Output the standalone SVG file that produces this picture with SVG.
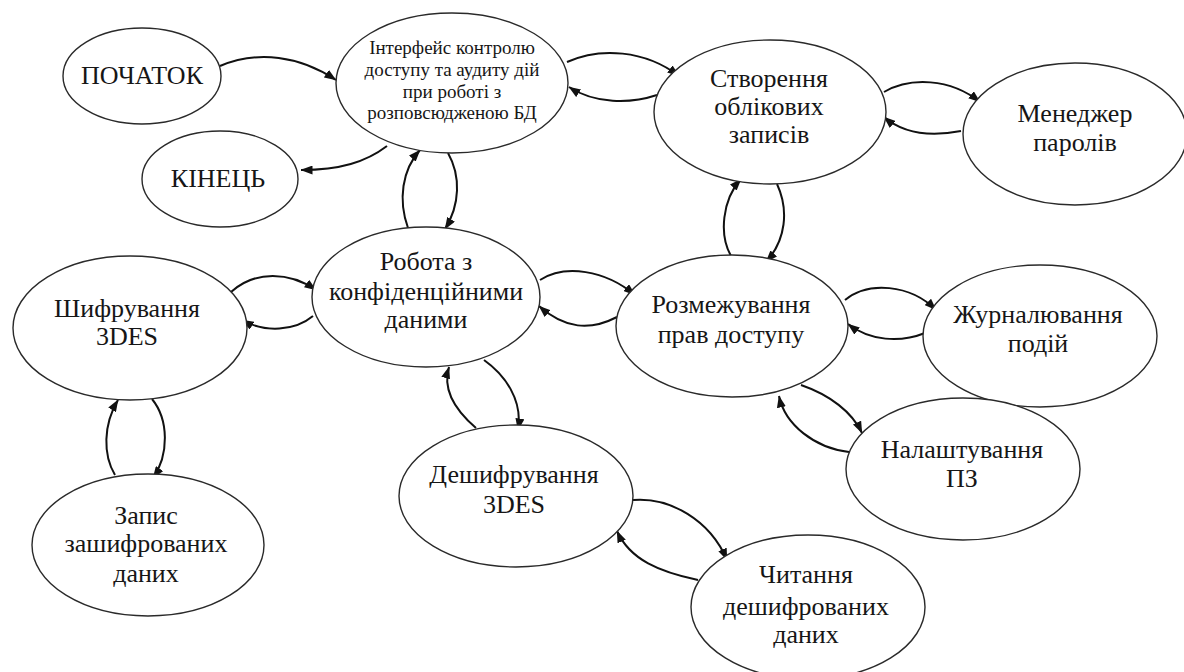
<svg xmlns="http://www.w3.org/2000/svg" width="1184" height="672" viewBox="0 0 1184 672">
<style>
.node ellipse{fill:#fff;stroke:#2a2a2a;stroke-width:1.4}
.node text{font-family:"Times New Roman","Liberation Serif","DejaVu Serif",serif;font-size:26px;fill:#161616;text-anchor:middle}
.node text.small{font-size:19px}
#connectors path{fill:none;stroke:#111;stroke-width:2;marker-end:url(#arrow)}
</style>
<defs>
<marker id="arrow" viewBox="0 0 12 9" markerWidth="12" markerHeight="9" refX="11.5" refY="4.5" orient="auto" markerUnits="userSpaceOnUse">
<path d="M0,0 L12,4.5 L0,9 z" fill="#111"/>
</marker>
</defs>
<rect width="1184" height="672" fill="#fff"/>
<g id="connectors">
<path d="M220 66 C258 50 300 56 336 80"/>
<path d="M387 146 C366 162 340 170 301 170"/>
<path d="M408 228 C398 200 402 170 420 150"/>
<path d="M448 153 C461 176 460 205 445 229"/>
<path d="M567 62 C600 47 645 50 679 76"/>
<path d="M657 95 C630 104 595 104 569 87"/>
<path d="M884 92 C910 77 950 78 980 102"/>
<path d="M961 131 C935 136 905 135 884 117"/>
<path d="M731 256 C719 235 722 200 741 179"/>
<path d="M777 184 C789 210 786 240 766 262"/>
<path d="M231 292 C255 270 290 272 316 290"/>
<path d="M313 316 C295 331 265 333 242 320"/>
<path d="M540 280 C565 264 605 270 635 295"/>
<path d="M617 317 C590 331 565 329 539 306"/>
<path d="M845 300 C868 281 910 284 936 310"/>
<path d="M925 333 C900 343 870 341 848 324"/>
<path d="M801 385 C830 395 852 412 862 433"/>
<path d="M849 452 C815 448 785 425 779 396"/>
<path d="M476 428 C455 410 442 390 449 367"/>
<path d="M484 360 C505 375 523 400 518 430"/>
<path d="M633 500 C670 497 710 520 727 560"/>
<path d="M698 580 C660 572 630 560 617 531"/>
<path d="M115 475 C103 455 103 425 118 400"/>
<path d="M152 399 C169 420 169 455 153 478"/>
</g>
<g id="start" class="node"><ellipse cx="142" cy="76" rx="79" ry="48"/><text x="142" y="84">ПОЧАТОК</text></g>
<g id="end" class="node"><ellipse cx="220" cy="179" rx="78" ry="48"/><text x="218" y="187">КІНЕЦЬ</text></g>
<g id="interface" class="node"><ellipse cx="452" cy="83" rx="116" ry="70"/><text class="small" x="452" y="54">Інтерфейс контролю<tspan x="452" y="76">доступу та аудиту дій</tspan><tspan x="452" y="98">при роботі з</tspan><tspan x="452" y="119">розповсюдженою БД</tspan></text></g>
<g id="accounts" class="node"><ellipse cx="770" cy="112" rx="116" ry="72"/><text x="769" y="87">Створення<tspan x="769" y="115">облікових</tspan><tspan x="769" y="143">записів</tspan></text></g>
<g id="passwords" class="node"><ellipse cx="1075" cy="134" rx="112" ry="71"/><text x="1075" y="122">Менеджер<tspan x="1075" y="151">паролів</tspan></text></g>
<g id="work" class="node"><ellipse cx="426" cy="297" rx="114" ry="70"/><text x="426" y="270">Робота з<tspan x="426" y="300">конфіденційними</tspan><tspan x="426" y="328">даними</tspan></text></g>
<g id="encrypt" class="node"><ellipse cx="130" cy="328" rx="117" ry="72"/><text x="127" y="317">Шифрування<tspan x="127" y="345">3DES</tspan></text></g>
<g id="access" class="node"><ellipse cx="732" cy="326" rx="116" ry="71"/><text x="731" y="313">Розмежування<tspan x="731" y="343">прав доступу</tspan></text></g>
<g id="logging" class="node"><ellipse cx="1040" cy="336" rx="117" ry="71"/><text x="1038" y="323">Журналювання<tspan x="1038" y="352">подій</tspan></text></g>
<g id="settings" class="node"><ellipse cx="963" cy="469" rx="117" ry="71"/><text x="962" y="458">Налаштування<tspan x="962" y="487">ПЗ</tspan></text></g>
<g id="decrypt" class="node"><ellipse cx="516" cy="496" rx="117" ry="71"/><text x="514" y="483">Дешифрування<tspan x="514" y="513">3DES</tspan></text></g>
<g id="write" class="node"><ellipse cx="148" cy="545" rx="116" ry="71"/><text x="146" y="524">Запис<tspan x="146" y="552">зашифрованих</tspan><tspan x="146" y="582">даних</tspan></text></g>
<g id="read" class="node"><ellipse cx="808" cy="607" rx="117" ry="72"/><text x="806" y="583">Читання<tspan x="806" y="615">дешифрованих</tspan><tspan x="806" y="643">даних</tspan></text></g>
</svg>
